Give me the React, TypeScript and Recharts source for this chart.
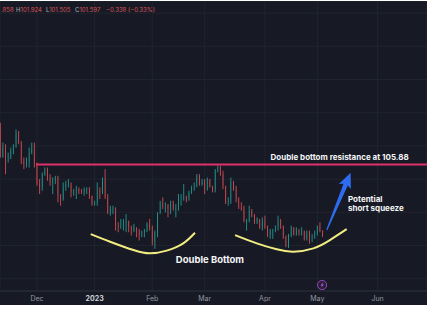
import React from 'react';
import {
  ComposedChart,
  Bar,
  Line,
  XAxis,
  YAxis,
  CartesianGrid,
  ReferenceLine,
  ReferenceDot,
} from 'recharts';

// Daily bars (weekdays) from 2022-11-11 to 2023-05-03; bar index 0 = 2022-12-01
const dates = [
  '2022-11-11', '2022-11-14', '2022-11-15', '2022-11-16', '2022-11-17', '2022-11-18', '2022-11-21', '2022-11-22', '2022-11-23', '2022-11-24', '2022-11-25', '2022-11-28', '2022-11-29', '2022-11-30',
  '2022-12-01', '2022-12-02', '2022-12-05', '2022-12-06', '2022-12-07', '2022-12-08', '2022-12-09', '2022-12-12', '2022-12-13', '2022-12-14', '2022-12-15', '2022-12-16', '2022-12-19', '2022-12-20', '2022-12-21', '2022-12-22', '2022-12-23', '2022-12-26', '2022-12-27', '2022-12-28', '2022-12-29', '2022-12-30',
  '2023-01-02', '2023-01-03', '2023-01-04', '2023-01-05', '2023-01-06', '2023-01-09', '2023-01-10', '2023-01-11', '2023-01-12', '2023-01-13', '2023-01-16', '2023-01-17', '2023-01-18', '2023-01-19', '2023-01-20', '2023-01-23', '2023-01-24', '2023-01-25', '2023-01-26', '2023-01-27', '2023-01-30', '2023-01-31',
  '2023-02-01', '2023-02-02', '2023-02-03', '2023-02-06', '2023-02-07', '2023-02-08', '2023-02-09', '2023-02-10', '2023-02-13', '2023-02-14', '2023-02-15', '2023-02-16', '2023-02-17', '2023-02-20', '2023-02-21', '2023-02-22', '2023-02-23', '2023-02-24', '2023-02-27', '2023-02-28',
  '2023-03-01', '2023-03-02', '2023-03-03', '2023-03-06', '2023-03-07', '2023-03-08', '2023-03-09', '2023-03-10', '2023-03-13', '2023-03-14', '2023-03-15', '2023-03-16', '2023-03-17', '2023-03-20', '2023-03-21', '2023-03-22', '2023-03-23', '2023-03-24', '2023-03-27', '2023-03-28', '2023-03-29', '2023-03-30', '2023-03-31',
  '2023-04-03', '2023-04-04', '2023-04-05', '2023-04-06', '2023-04-07', '2023-04-10', '2023-04-11', '2023-04-12', '2023-04-13', '2023-04-14', '2023-04-17', '2023-04-18', '2023-04-19', '2023-04-20', '2023-04-21', '2023-04-24', '2023-04-25', '2023-04-26', '2023-04-27', '2023-04-28',
  '2023-05-01', '2023-05-02', '2023-05-03',
];

const opens = [
  108.2, 106.3, 106.9, 106.3, 106.3, 106.7, 106.9, 107.8, 107.2, 106.1, 105.9, 106.0, 106.6, 106.8,
  105.9, 104.7, 104.5, 105.3, 105.6, 105.1, 104.8, 104.9, 105.1, 104.0, 103.8, 104.5, 104.7, 104.75, 104.2, 104.25, 104.4, 104.3, 104.2, 104.4, 104.5, 104.0,
  103.5, 103.6, 104.3, 104.2, 105.0, 103.9, 103.0, 103.2, 103.25, 102.2, 102.18, 102.25, 102.4, 102.45, 102.1, 101.9, 102.1, 101.9, 101.6, 101.8, 101.9, 102.3,
  102.1, 101.2, 101.8, 103.0, 103.6, 103.4, 103.45, 103.2, 103.6, 103.2, 103.25, 103.8, 103.85, 103.9, 103.8, 104.2, 104.5, 104.6, 105.2, 104.7,
  104.9, 104.4, 105.0, 104.5, 104.3, 105.6, 105.7, 105.3, 104.6, 103.6, 103.65, 104.8, 104.4, 103.8, 103.3, 103.2, 102.5, 102.5, 103.1, 102.8, 102.4, 102.6, 102.1,
  102.5, 102.1, 101.6, 101.9, 101.95, 102.1, 102.5, 102.2, 101.5, 101.0, 101.6, 102.1, 101.7, 101.9, 101.8, 101.85, 101.4, 101.8, 101.5, 101.55,
  101.7, 102.15, 101.858,
];

const highs = [
  108.4, 107.2, 107.1, 106.6, 106.9, 107.1, 107.99, 107.9, 107.3, 106.3, 106.3, 106.9, 107.2, 107.2,
  106.0, 105.0, 105.4, 105.7, 105.7, 105.3, 105.1, 105.2, 105.2, 104.1, 104.8, 104.9, 105.0, 104.8, 104.4, 104.6, 104.5, 104.4, 104.5, 104.5, 104.5, 104.0,
  103.7, 104.8, 104.5, 105.1, 105.6, 104.1, 103.4, 103.4, 103.3, 102.4, 102.6, 102.6, 102.9, 102.5, 102.2, 102.3, 102.1, 102.0, 101.9, 102.0, 102.4, 102.6,
  102.2, 101.9, 103.0, 103.7, 103.9, 103.6, 103.5, 103.7, 103.7, 103.5, 104.1, 104.1, 104.7, 104.0, 104.3, 104.6, 104.8, 105.3, 105.3, 105.0,
  105.0, 105.1, 105.0, 104.6, 105.6, 105.88, 105.8, 105.5, 104.6, 103.9, 105.1, 104.9, 104.6, 103.9, 103.6, 103.4, 102.6, 103.4, 103.2, 102.9, 102.7, 102.6, 102.7,
  102.8, 102.2, 102.0, 102.0, 102.2, 102.8, 102.6, 102.2, 101.6, 101.7, 102.2, 102.1, 102.1, 102.0, 102.1, 101.9, 101.9, 101.9, 101.7, 101.9,
  102.2, 102.4, 101.924,
];

const lows = [
  106.3, 106.3, 105.3, 106.0, 106.2, 106.5, 106.9, 107.1, 105.9, 105.6, 105.7, 105.7, 106.5, 105.7,
  104.6, 104.1, 104.3, 105.2, 104.9, 104.6, 104.1, 104.7, 103.6, 103.4, 103.7, 104.3, 104.5, 103.9, 104.0, 103.8, 104.1, 104.1, 104.0, 104.1, 103.8, 103.4,
  103.4, 103.4, 103.8, 104.1, 103.8, 102.9, 102.8, 102.9, 101.9, 101.8, 102.0, 101.9, 101.8, 101.8, 101.6, 101.8, 101.5, 101.3, 101.5, 101.5, 101.8, 101.9,
  101.0, 100.8, 101.5, 102.9, 103.2, 103.0, 102.7, 102.9, 103.1, 102.7, 103.1, 103.4, 103.7, 103.6, 103.7, 104.1, 104.3, 104.5, 104.6, 104.6,
  104.1, 104.3, 104.5, 104.2, 104.2, 105.4, 105.2, 104.4, 103.5, 103.4, 103.5, 104.3, 103.6, 103.2, 103.1, 102.4, 101.9, 102.4, 102.7, 102.3, 102.3, 102.0, 101.9,
  102.0, 101.5, 101.4, 101.4, 101.8, 101.9, 102.0, 101.4, 100.9, 100.85, 101.5, 101.6, 101.6, 101.6, 101.6, 101.3, 101.3, 101.1, 101.2, 101.4,
  101.6, 101.8, 101.505,
];

const closes = [
  106.3, 106.9, 106.3, 106.3, 106.7, 106.9, 107.8, 107.2, 106.1, 105.9, 106.0, 106.6, 106.8, 105.9,
  104.7, 104.5, 105.3, 105.6, 105.1, 104.8, 104.9, 105.1, 104.0, 103.8, 104.5, 104.7, 104.75, 104.2, 104.25, 104.4, 104.3, 104.2, 104.4, 104.5, 104.0, 103.5,
  103.6, 104.3, 104.2, 105.0, 103.9, 103.0, 103.2, 103.25, 102.2, 102.18, 102.25, 102.4, 102.45, 102.1, 101.9, 102.1, 101.9, 101.6, 101.8, 101.9, 102.3, 102.1,
  101.2, 101.8, 103.0, 103.6, 103.4, 103.45, 103.2, 103.6, 103.2, 103.25, 103.8, 103.85, 103.9, 103.8, 104.2, 104.5, 104.6, 105.2, 104.7, 104.9,
  104.4, 105.0, 104.5, 104.3, 105.6, 105.7, 105.3, 104.6, 103.6, 103.65, 104.8, 104.4, 103.8, 103.3, 103.2, 102.5, 102.5, 103.1, 102.8, 102.4, 102.6, 102.1, 102.5,
  102.1, 101.6, 101.9, 101.95, 102.1, 102.5, 102.2, 101.5, 101.0, 101.6, 102.1, 101.7, 101.9, 101.8, 101.85, 101.4, 101.8, 101.5, 101.55, 101.7,
  102.15, 101.935, 101.597,
];

const FIRST_BAR = -14; // 2022-11-11 is 14 bars before 2022-12-01

// month ticks (bar index of first bar in month) and labels
const monthTicks = [0, 22, 44, 64, 87, 107, 130];
const monthLabels = ['Dec', '2023', 'Feb', 'Mar', 'Apr', 'May', 'Jun'];
const priceTicks = [99, 100, 101, 102, 103, 104, 105, 106, 107, 108, 109, 110, 111, 112, 113, 114, 115];

const resistance = 105.88;

// hand-drawn "double bottom" arcs (bar index / price)
const arc1Idx = [20.5, 27.9, 36.8, 43.1, 49.5, 55.8, 60.3];
const arc1Px = [101.69, 101.23, 100.73, 100.53, 100.69, 101.13, 101.77];
const arc2Idx = [75.6, 83.9, 91.5, 97.8, 105.5, 111.8, 118.2];
const arc2Px = [101.63, 101.13, 100.77, 100.63, 100.83, 101.33, 101.99];

// squeeze arrow: tail -> tip
const arrowFrom = { i: 110.6, p: 101.93 };
const arrowTo = { i: 119.7, p: 105.39 };

// legend (the open value is cut off at the pane's left edge in the source)
const legendLabels = ['', 'H', 'L', 'C'];
const legendValues = ['.858', '101.924', '101.505', '101.597'];
const legendChange = '−0.338 (−0.33%)';

const candles = dates.map((d, k) => ({
  i: k + FIRST_BAR,
  date: d,
  open: opens[k],
  high: highs[k],
  low: lows[k],
  close: closes[k],
  range: [lows[k], highs[k]],
}));
const arc1 = arc1Idx.map((i, k) => ({ i, p: arc1Px[k] }));
const arc2 = arc2Idx.map((i, k) => ({ i, p: arc2Px[k] }));

const BG = '#171a24';
const GRID = '#20242e';
const UP = '#26a69a';
const DOWN = '#e5535a';
const FONT = 'Inter, Roboto, "Liberation Sans", sans-serif';

const Candle = (props: any) => {
  const { x, y, width, height, payload } = props;
  if (x == null || !payload) return null;
  const top = Math.min(y, y + height);
  const h = Math.abs(height);
  const { open, close, high, low } = payload;
  const span = high - low || 1;
  const py = (v: number) => top + ((high - v) / span) * h;
  const color = close >= open ? UP : DOWN;
  const cx = x + width / 2;
  const bTop = py(Math.max(open, close));
  const bBot = py(Math.min(open, close));
  return (
    <g>
      <line x1={cx} x2={cx} y1={top} y2={top + h} stroke={color} strokeWidth={0.8} />
      <rect x={x} y={bTop} width={width} height={Math.max(1, bBot - bTop)} fill={color} />
    </g>
  );
};

const MonthTick = (props: any) => {
  const { x, y, payload } = props;
  const k = monthTicks.indexOf(payload.value);
  const label = k >= 0 ? monthLabels[k] : '';
  const isYear = label === '2023';
  return (
    <text
      x={x}
      y={y + 10}
      textAnchor="middle"
      fontSize={7}
      fontFamily={FONT}
      fontWeight={isYear ? 700 : 400}
      fill={isYear ? '#d1d4dc' : '#9498a1'}
    >
      {label}
    </text>
  );
};

const noteShape = (text: string, size: number, anchor: 'start' | 'middle' | 'end') => (props: any) => (
  <text
    x={props.cx}
    y={props.cy}
    textAnchor={anchor}
    dominantBaseline="central"
    fontSize={size}
    fontWeight={700}
    fontFamily={FONT}
    fill="#f4f5f7"
  >
    {text}
  </text>
);

const ArrowShape = (props: any) => {
  const { x1, y1, x2, y2 } = props;
  if ([x1, y1, x2, y2].some((v) => v == null || isNaN(v))) return null;
  const dx = x2 - x1;
  const dy = y2 - y1;
  const L = Math.sqrt(dx * dx + dy * dy);
  const ux = dx / L;
  const uy = dy / L;
  const nx = -uy;
  const ny = ux;
  const headLen = 15;
  const headW = 6.5;
  const neck = L - headLen;
  const pt = (along: number, side: number) =>
    `${x1 + ux * along + nx * side},${y1 + uy * along + ny * side}`;
  const points = [
    pt(0, 0.6),
    pt(neck + 2, 2.3),
    pt(neck, headW),
    pt(L, 0),
    pt(neck, -headW),
    pt(neck + 2, -2.3),
    pt(0, -0.6),
  ].join(' ');
  return <polygon points={points} fill="#2d6cf0" />;
};

const EventIcon = (props: any) => {
  const { cx, cy } = props;
  if (cx == null) return null;
  return (
    <g>
      <circle cx={cx} cy={cy} r={4.6} fill="#2a1d3b" stroke="#9b4fc9" strokeWidth={0.9} />
      <path
        d={`M${cx + 1.2},${cy - 3} L${cx - 1.6},${cy + 0.5} L${cx + 0.1},${cy + 0.5} L${cx - 1.1},${cy + 3} L${cx + 1.8},${cy - 0.6} L${cx + 0.1},${cy - 0.6} Z`}
        fill="#b05fd8"
      />
    </g>
  );
};

const legendX = [1, 16, 46, 75];

export default function App() {
  return (
    <div style={{ position: 'absolute', left: 0, top: 0, width: 427, height: 320, background: '#ffffff', overflow: 'hidden' }}>
      <div style={{ position: 'absolute', left: 0, top: 1, width: 427, height: 304, background: BG }}>
        <ComposedChart width={427} height={304} data={candles} margin={{ top: 0, right: 0, bottom: 0, left: 0 }}>
          <CartesianGrid stroke={GRID} strokeWidth={1} />
          <XAxis
            dataKey="i"
            type="number"
            domain={[-14.12, 148.85]}
            allowDataOverflow
            ticks={monthTicks}
            interval={0}
            height={14}
            tickSize={0}
            tickMargin={0}
            tickLine={false}
            axisLine={{ stroke: '#2a2e39' }}
            tick={MonthTick}
          />
          <YAxis type="number" domain={[98.26, 115.73]} allowDataOverflow ticks={priceTicks} hide />
          <Bar dataKey="range" barSize={2} shape={Candle} isAnimationActive={false} />
          <ReferenceLine
            segment={[{ x: -0.4, y: resistance }, { x: 148.85, y: resistance }]}
            stroke="#e0306b"
            strokeWidth={2}
            ifOverflow="visible"
          />
          <Line data={arc1} dataKey="p" type="natural" stroke="#f2ec83" strokeWidth={2} dot={false} isAnimationActive={false} />
          <Line data={arc2} dataKey="p" type="natural" stroke="#f2ec83" strokeWidth={2} dot={false} isAnimationActive={false} />
          <ReferenceLine
            segment={[{ x: arrowFrom.i, y: arrowFrom.p }, { x: arrowTo.i, y: arrowTo.p }]}
            shape={ArrowShape}
            ifOverflow="visible"
          />
          <ReferenceDot x={115.5} y={106.33} r={0} ifOverflow="visible" shape={noteShape('Double bottom resistance at 105.88', 8, 'middle')} />
          <ReferenceDot x={66.0} y={100.13} r={0} ifOverflow="visible" shape={noteShape('Double Bottom', 9.5, 'middle')} />
          <ReferenceDot x={118.7} y={103.8} r={0} ifOverflow="visible" shape={noteShape('Potential', 8, 'start')} />
          <ReferenceDot x={118.7} y={103.29} r={0} ifOverflow="visible" shape={noteShape('short squeeze', 8, 'start')} />
          <ReferenceDot x={108.8} y={98.62} r={0} ifOverflow="visible" shape={EventIcon} />
        </ComposedChart>
        <svg width={427} height={20} style={{ position: 'absolute', left: 0, top: 0, pointerEvents: 'none' }}>
          {legendLabels.map((lab, k) => (
            <text key={k} x={legendX[k]} y={11} fontSize={6} fontFamily={FONT}>
              {lab ? <tspan fill="#b2b5be">{lab}</tspan> : null}
              <tspan fill="#d9545a">{legendValues[k]}</tspan>
            </text>
          ))}
          <text x={106} y={11} fontSize={6} fontFamily={FONT} fill="#d9545a">
            {legendChange}
          </text>
        </svg>
      </div>
    </div>
  );
}
